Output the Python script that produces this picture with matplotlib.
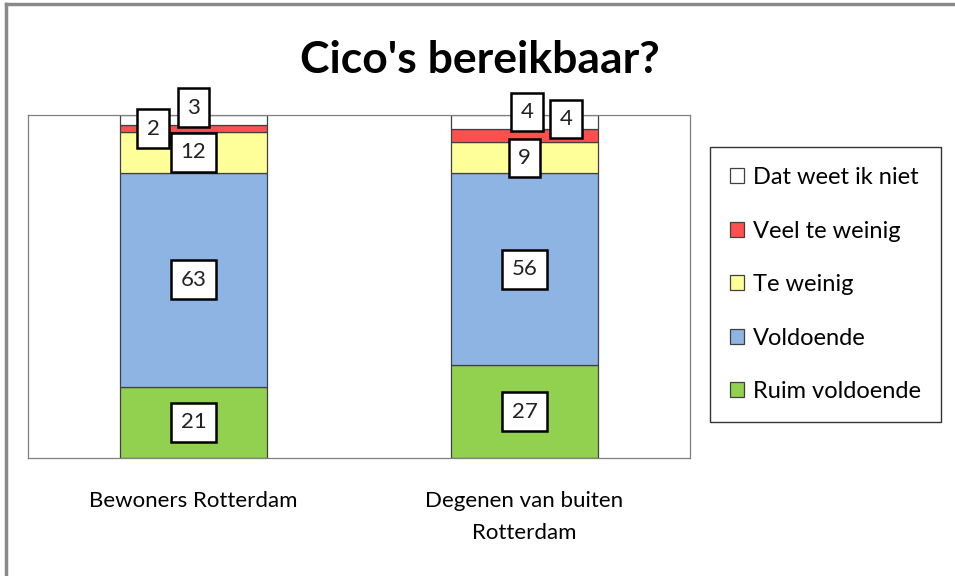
import numpy as np
import matplotlib
matplotlib.use("Agg")
import matplotlib.pyplot as plt
from matplotlib.lines import Line2D

plt.rcParams['font.family'] = ['Lato', 'DejaVu Sans']

# data (percentages per group)
groups = ["Bewoners Rotterdam", "Degenen van buiten\nRotterdam"]
series = ["Ruim voldoende", "Voldoende", "Te weinig", "Veel te weinig", "Dat weet ik niet"]
ruim = [21, 27]
voldoende = [63, 56]
te_weinig = [12, 9]
veel_te_weinig = [2, 4]
weet_niet = [3, 4]
colors = ["#92D050", "#8EB4E3", "#FFFF99", "#FF4F4F", "#FFFFFF"]

values = np.array([ruim, voldoende, te_weinig, veel_te_weinig, weet_niet], dtype=float)
shares = values / values.sum(axis=0) * 100

# label offsets in points for the crowded top segments (series index, group index)
offsets = {(3, 0): (-29, 0), (4, 0): (0, 9),
           (3, 1): (30, 12), (4, 1): (2, 7)}

fig = plt.figure(figsize=(9.55, 5.76), dpi=100)
ax = fig.add_axes([0.0293, 0.2049, 0.6932, 0.5954])

x = np.arange(len(groups))
bottom = np.zeros(len(groups))
for i, name in enumerate(series):
    ax.bar(x, shares[i], 0.447, bottom=bottom, color=colors[i],
           edgecolor="#404040", linewidth=0.9, label=name)
    for j in range(len(groups)):
        yc = bottom[j] + shares[i][j] / 2
        dx, dy = offsets.get((i, j), (0, 0))
        ax.annotate(str(int(values[i][j])), (x[j], yc), xytext=(dx, dy),
                    textcoords="offset points", ha="center", va="center",
                    fontsize=16, color="#222222",
                    bbox=dict(boxstyle="square,pad=0.42", fc="white",
                              ec="black", lw=1.8))
    bottom += shares[i]

ax.set_xlim(-0.5, 1.5)
ax.set_ylim(0, 100)
ax.set_yticks([])
ax.set_xticks(x)
ax.set_xticklabels(groups, fontsize=16, linespacing=1.75)
ax.tick_params(axis="x", length=0, pad=24)
for s in ax.spines.values():
    s.set_color("#808080")
    s.set_linewidth(0.9)

fig.text(0.503, 0.895, "Cico's bereikbaar?", ha="center", va="center",
         fontsize=32, fontweight="bold")

handles = [plt.Rectangle((0, 0), 1, 1, fc=c, ec="#404040", lw=0.9) for c in colors]
leg = fig.legend(handles[::-1], series[::-1], loc="upper left",
                 bbox_to_anchor=(0.7435, 0.745), fontsize=17, frameon=True,
                 fancybox=False, edgecolor="black", handlelength=0.6,
                 handleheight=0.6, handletextpad=0.35, labelspacing=1.38,
                 borderpad=0.85, borderaxespad=0)
leg.get_frame().set_linewidth(1.0)

# chart frame (top and left edges visible)
fig.add_artist(Line2D([0.0063, 1.0], [0.993, 0.993], color="#8a8a8a", lw=2.5,
                      transform=fig.transFigure))
fig.add_artist(Line2D([0.0063, 0.0063], [0.0, 0.993], color="#8a8a8a", lw=2.5,
                      transform=fig.transFigure))

fig.savefig("out.png", dpi=100)
